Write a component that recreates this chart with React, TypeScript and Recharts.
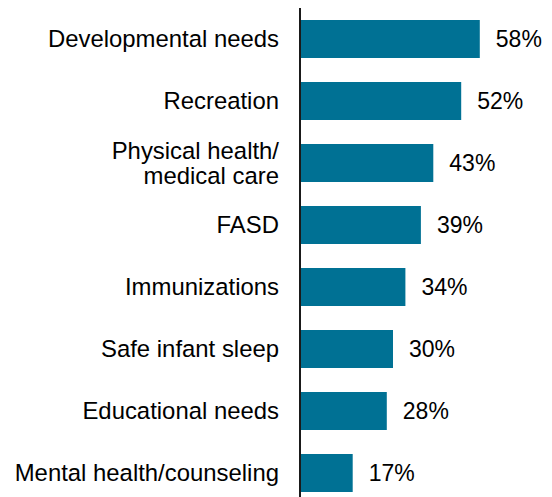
import React from 'react'
import { BarChart, Bar, XAxis, YAxis, LabelList } from 'recharts'

const categories = [
    'Developmental needs',
    'Recreation',
    'Physical health/\nmedical care',
    'FASD',
    'Immunizations',
    'Safe infant sleep',
    'Educational needs',
    'Mental health/counseling',
]
const values = [58, 52, 43, 39, 34, 30, 28, 17]

const data = categories.map((name, i) => ({ name, value: values[i] }))

const FONT = '"Liberation Sans", Arial, sans-serif'

const CategoryTick = (props: any) => {
    const { x, y, payload } = props
    const lines = String(payload.value).split('\n')
    const lh = 25
    const start = -((lines.length - 1) * lh) / 2
    return (
        <text x={x - 21} y={y} textAnchor="end" fontFamily={FONT} fontSize={23.9} fill="#000">
            {lines.map((l, i) => (
                <tspan key={i} x={x - 21} dy={i === 0 ? start + 8.4 : lh}>
                    {l}
                </tspan>
            ))}
        </text>
    )
}

export default function App() {
    return (
        <div style={{ position: 'absolute', left: 0, top: 0, width: 552, height: 497, overflow: 'hidden', background: '#fff' }}>
            <BarChart
                width={552}
                height={504}
                data={data}
                layout="vertical"
                margin={{ top: 8, right: 66, bottom: 0, left: 0 }}
            >
                <XAxis type="number" domain={[0, 60]} hide />
                <YAxis
                    type="category"
                    dataKey="name"
                    width={300}
                    tickLine={false}
                    tickSize={0}
                    tickMargin={0}
                    axisLine={{ stroke: '#1a1a1a', strokeWidth: 2 }}
                    tick={<CategoryTick />}
                    interval={0}
                />
                <Bar dataKey="value" fill="#007194" barSize={38} isAnimationActive={false}>
                    <LabelList
                        dataKey="value"
                        position="right"
                        offset={16}
                        formatter={(v: any) => `${v}%`}
                        style={{ fontFamily: FONT, fontSize: 23, fill: '#000' }}
                    />
                </Bar>
            </BarChart>
        </div>
    )
}
